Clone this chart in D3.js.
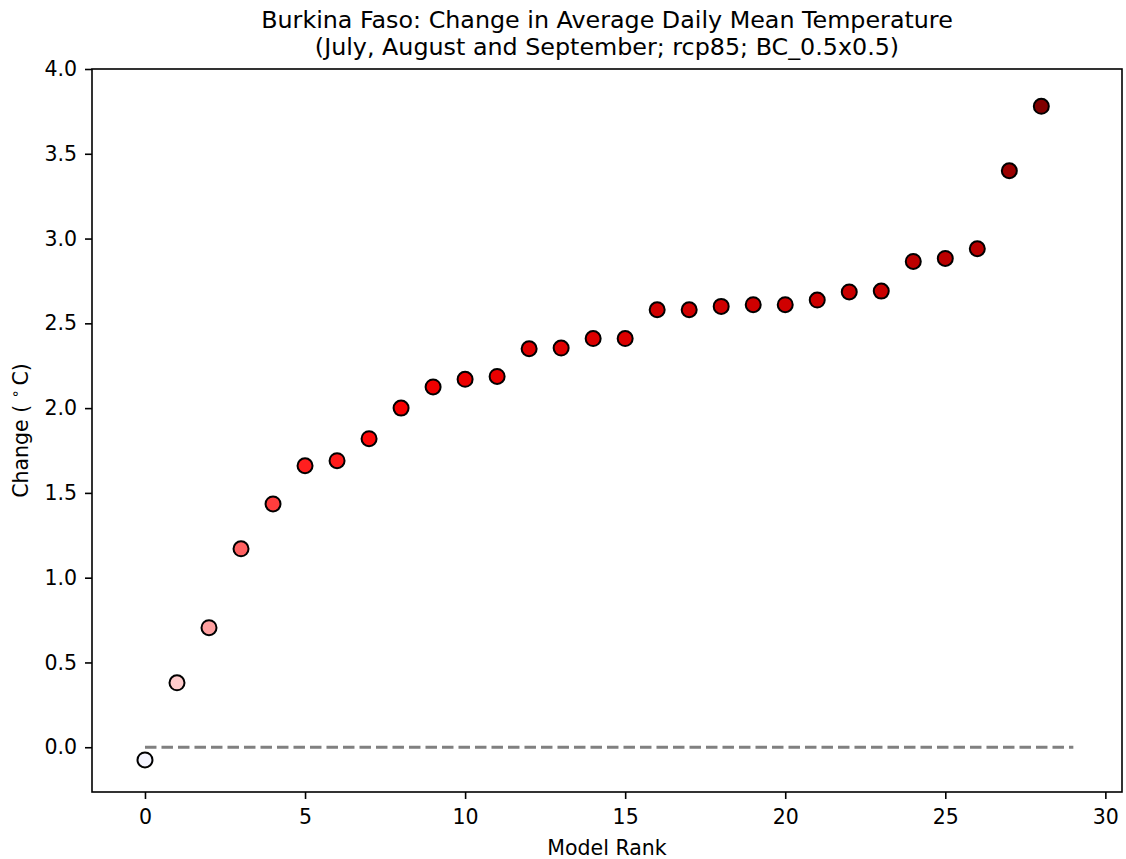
<!DOCTYPE html>
<html>
<head>
<meta charset="utf-8">
<script src="https://cdn.jsdelivr.net/npm/d3@7"></script>
<style>
  html, body { margin: 0; padding: 0; background: #fff; }
  svg text { font-family: "DejaVu Sans", sans-serif; fill: #000; }
</style>
</head>
<body>
<svg id="chart" width="1126" height="859"></svg>
<script>
// ---- data ----
const ranks = d3.range(0, 29);
const changes = [-0.075, 0.38, 0.705, 1.17, 1.435, 1.66, 1.69, 1.82, 2.0, 2.125, 2.17, 2.187,
  2.35, 2.354, 2.41, 2.41, 2.58, 2.58, 2.60, 2.61, 2.61, 2.637, 2.685, 2.69,
  2.865, 2.883, 2.94, 3.40, 3.78];
const xTicks = [0, 5, 10, 15, 20, 25, 30];
const yTicks = [0.0, 0.5, 1.0, 1.5, 2.0, 2.5, 3.0, 3.5, 4.0];
const titleLines = ["Burkina Faso: Change in Average Daily Mean Temperature",
  "(July, August and September; rcp85; BC_0.5x0.5)"];
const xLabel = "Model Rank";
const zeroLine = [0, 29];

// ---- layout ----
const svg = d3.select("#chart");
const L = 92, R = 1122, T = 69, B = 792;
const x = d3.scaleLinear().domain([-1.655, 30.52]).range([L, R]);
const y = d3.scaleLinear().domain([-0.264, 4.0]).range([B, T]);

// seismic colormap, symmetric about zero
const vmax = d3.max(changes.map(Math.abs));
const seismic = d3.scaleLinear()
  .domain([-vmax, -vmax / 2, 0, vmax / 2, vmax])
  .range(["#00004d", "#0000ff", "#ffffff", "#ff0000", "#800000"])
  .interpolate(d3.interpolateRgb);

// zero dashed line
svg.append("line")
  .attr("x1", x(zeroLine[0])).attr("x2", x(zeroLine[1]))
  .attr("y1", y(0)).attr("y2", y(0))
  .attr("stroke", "#808080").attr("stroke-width", 3)
  .attr("stroke-dasharray", "11.5,5");

// points
svg.append("g").selectAll("circle")
  .data(ranks)
  .join("circle")
  .attr("cx", d => x(d))
  .attr("cy", d => y(changes[d]))
  .attr("r", 7.5)
  .attr("fill", d => seismic(changes[d]))
  .attr("stroke", "#000")
  .attr("stroke-width", 2);

// frame
svg.append("rect")
  .attr("x", L).attr("y", T).attr("width", R - L).attr("height", B - T)
  .attr("fill", "none").attr("stroke", "#000").attr("stroke-width", 1.6);

// axes
const xAxis = d3.axisBottom(x).tickValues(xTicks).tickFormat(d3.format("d"))
  .tickSizeInner(7).tickSizeOuter(0).tickPadding(10);
const gx = svg.append("g").attr("transform", `translate(0,${B})`).call(xAxis);
const yAxis = d3.axisLeft(y).tickValues(yTicks).tickFormat(d3.format(".1f"))
  .tickSizeInner(7).tickSizeOuter(0).tickPadding(8);
const gy = svg.append("g").attr("transform", `translate(${L},0)`).call(yAxis);
[gx, gy].forEach(g => {
  g.select(".domain").remove();
  g.selectAll(".tick line").attr("stroke", "#000").attr("stroke-width", 1.6);
  g.selectAll(".tick text").attr("font-size", 20.5).attr("font-family", "DejaVu Sans").attr("fill", "#000");
});

// title
svg.append("g").selectAll("text")
  .data(titleLines)
  .join("text")
  .attr("x", (L + R) / 2)
  .attr("y", (d, i) => 28 + i * 27)
  .attr("text-anchor", "middle")
  .attr("font-size", 23.8)
  .text(d => d);

// x label
svg.append("text")
  .attr("x", (L + R) / 2).attr("y", 855)
  .attr("text-anchor", "middle").attr("font-size", 20.5)
  .text(xLabel);

// y label with superscript degree
const yl = svg.append("text")
  .attr("transform", `translate(28,${(T + B) / 2}) rotate(-90)`)
  .attr("text-anchor", "middle").attr("font-size", 20.5);
yl.append("tspan").text("Change ( ");
yl.append("tspan").attr("baseline-shift", "super").attr("font-size", 14).text("∘");
yl.append("tspan").attr("dx", 4).text("C)");
</script>
</body>
</html>
